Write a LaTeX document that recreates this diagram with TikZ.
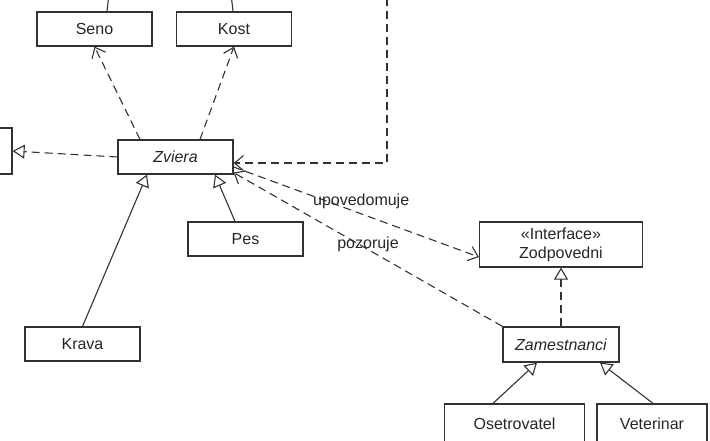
\documentclass[tikz,border=0pt]{standalone}
\usepackage{fontspec}
\setmainfont{Liberation Sans}
\usepackage{tikz}
\usetikzlibrary{arrows.meta}
\definecolor{lineColor}{RGB}{50,50,50}
\tikzstyle{canvas} = [x = 1pt, y = -1pt]
\tikzstyle{classStyle} = [draw=lineColor, line width=1.2pt, fill=white, inner sep=0pt, minimum width=115pt, minimum height=34pt, font=\fontsize{16}{19}\selectfont, text=black!85]
\tikzstyle{abstractStyle} = [classStyle, font=\fontsize{16}{19}\selectfont\itshape]
\tikzstyle{dependencyLine} = [draw=lineColor, line width=1.1pt, dash pattern=on 8pt off 5pt, -{Straight Barb[length=9pt, width=15pt, line width=1.1pt]}]
\tikzstyle{realizationLine} = [draw=lineColor, line width=1.1pt, dash pattern=on 8pt off 5pt, -{Triangle[open, length=12pt, width=14pt, fill=white, line width=1.1pt]}]
\tikzstyle{inheritanceLine} = [draw=lineColor, line width=1.1pt, -{Triangle[open, length=12pt, width=14pt, fill=white, line width=1.1pt]}]
\tikzstyle{plainLine} = [draw=lineColor, line width=1.1pt]
\tikzstyle{edgeLabel} = [font=\fontsize{16}{19}\selectfont, text=black!85, inner sep=1pt]
\newcommand{\classBox}[4]{\node [classStyle] (#1) at (#2, #3) {#4};}
\newcommand{\abstractBox}[4]{\node [abstractStyle] (#1) at (#2, #3) {#4};}
\begin{document}
\begin{tikzpicture}[canvas]
  \useasboundingbox (0, 0) rectangle (710, 441);
  % classes
  \classBox{seno}{94.5}{29}{Seno}
  \classBox{kost}{234}{29}{Kost}
  \abstractBox{zviera}{175.5}{157}{Zviera}
  \node [classStyle, minimum width=104pt, minimum height=46pt] (outside) at (-40, 151) {};
  \classBox{pes}{245.5}{239}{Pes}
  \classBox{krava}{82.5}{344}{Krava}
  \node [classStyle, minimum width=163pt, minimum height=45pt, align=center] (zodpovedni) at (561, 244.5) {«Interface»\\Zodpovedni};
  \node [abstractStyle, minimum width=116pt, minimum height=35pt] (zamestnanci) at (561, 344.5) {Zamestnanci};
  \node [classStyle, minimum width=140pt, minimum height=40pt] (osetrovatel) at (514.5, 424) {Osetrovatel};
  \node [classStyle, minimum width=110pt, minimum height=40pt] (veterinar) at (652, 424) {Veterinar};
  % free ends outside the picture
  \coordinate (senoTop) at (108.5, -2);
  \coordinate (kostTop) at (231.5, -2);
  \coordinate (rightTop) at (387, -2);
  \draw [plainLine] ([xshift=12.5pt]seno.north) -- (senoTop);
  \draw [plainLine] ([xshift=-1pt]kost.north) -- (kostTop);
  % dependencies
  \draw [dependencyLine] ([xshift=-35.5pt]zviera.north) -- (seno.south);
  \draw [dependencyLine] ([xshift=24.5pt]zviera.north) -- (kost.south);
  \draw [dependencyLine] (rightTop) |- ([yshift=-6pt]zviera.east);
  \draw [dependencyLine] ([yshift=-10pt]zviera.east) -- ([yshift=-12.5pt]zodpovedni.west)
    node [edgeLabel, pos=0.52, above=3pt] {upovedomuje};
  \draw [dependencyLine] (zamestnanci.north west) -- ([yshift=2pt]zviera.south east)
    node [edgeLabel, pos=0.5, yshift=5pt] {pozoruje};
  \draw [realizationLine] (zviera.west) -- (outside.east);
  \draw [realizationLine] (zamestnanci.north) -- (zodpovedni.south);
  % generalizations
  \draw [inheritanceLine] (krava.north) -- ([xshift=-28.5pt]zviera.south);
  \draw [inheritanceLine] ([xshift=-10.5pt]pes.north) -- ([xshift=39.5pt]zviera.south);
  \draw [inheritanceLine] ([xshift=-21.5pt]osetrovatel.north) -- ([xshift=-24pt]zamestnanci.south);
  \draw [inheritanceLine] ([xshift=1pt]veterinar.north) -- ([xshift=39pt]zamestnanci.south);
\end{tikzpicture}
\end{document}
